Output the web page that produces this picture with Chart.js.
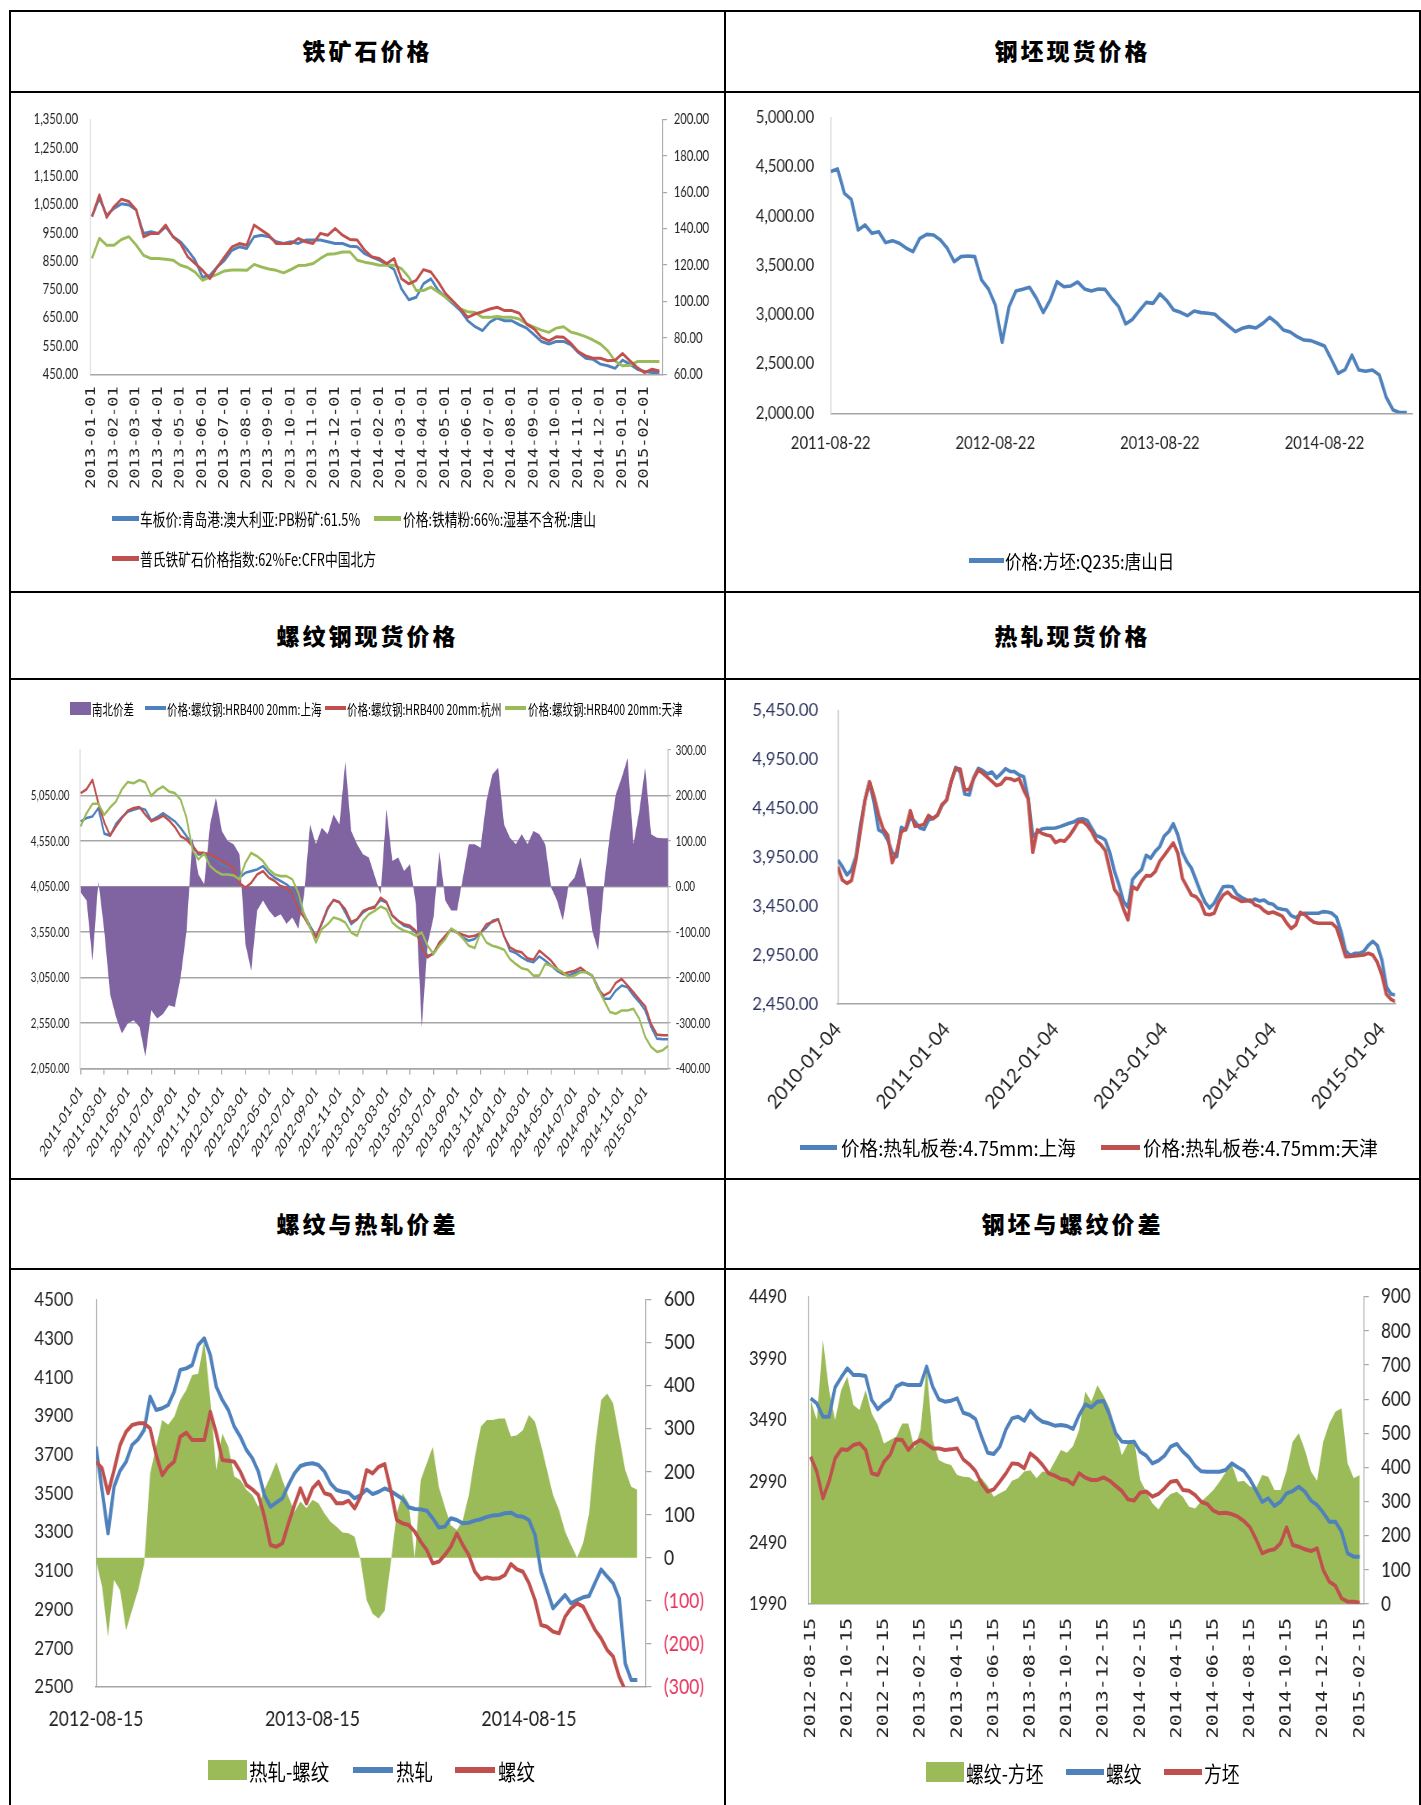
<!DOCTYPE html>
<html><head><meta charset="utf-8">
<script src="https://cdn.jsdelivr.net/npm/chart.js@4.4.0/dist/chart.umd.min.js"></script>
<style>
html,body{margin:0;padding:0;background:#fff;}
body{width:1421px;height:1805px;position:relative;overflow:hidden;font-family:"Noto Sans CJK SC",sans-serif;}
.ln{position:absolute;background:#000;}
.title{position:absolute;font-family:"Noto Sans CJK SC",sans-serif;font-weight:900;font-size:23px;letter-spacing:3px;text-align:center;color:#000;line-height:32px;}
.cw{position:absolute;transform-origin:0 0;}
.lgt{position:absolute;white-space:nowrap;transform-origin:0 50%;color:#000;font-family:"Noto Sans CJK SC",sans-serif;}
.mk{position:absolute;}
</style></head><body>
<script>
// ---------------- DATA ----------------
// 1 铁矿石价格 (step 1/3 month from 2013-01-01)
const c1Start = '2013-01-01', c1Step = 1/3;
const c1Labels = ['2013-01-01','2013-02-01','2013-03-01','2013-04-01','2013-05-01','2013-06-01','2013-07-01','2013-08-01','2013-09-01','2013-10-01','2013-11-01','2013-12-01','2014-01-01','2014-02-01','2014-03-01','2014-04-01','2014-05-01','2014-06-01','2014-07-01','2014-08-01','2014-09-01','2014-10-01','2014-11-01','2014-12-01','2015-01-01','2015-02-01'];
const c1PB = [1007,1072,1012,1036,1052,1048,1030,947,953,947,971,936,918,888,853,793,799,829,853,888,900,894,936,941,936,918,912,918,912,924,924,924,918,912,912,902,900,876,864,853,838,820,752,713,722,770,787,746,722,699,675,639,618,604,634,649,639,639,625,613,590,566,557,566,566,554,527,507,503,486,480,471,500,486,468,460,456,456];
const c1Conc = [859,930,906,906,926,936,906,870,859,859,856,853,835,827,811,782,793,803,815,818,818,817,838,829,822,817,808,820,834,835,841,859,874,876,882,882,853,846,841,835,835,835,823,793,746,746,758,740,722,705,681,671,668,651,651,654,651,651,645,628,616,606,598,613,618,599,592,583,571,557,533,497,480,482,495,495,495,495];
const c1Platts = [146.6,158.6,146.2,152.1,156.2,154.9,150.3,135.5,137.4,137.4,142,135.5,131.8,124.5,120.8,117.1,112.5,118.9,124.5,130,131.8,130.9,142,139.2,136.4,131.8,131.8,131.8,134.6,132.8,131.8,137.4,136.4,140.1,136.4,134.1,133.7,128.2,124.5,123.6,120.8,123.6,112.5,109.7,111.6,117.5,116.2,110.7,104.2,100.2,95.9,91.3,93.2,94.4,95.9,96.8,95,95,93.5,87.6,84.9,80.3,78.4,80.6,80.3,77,72.5,70.1,68.8,68.8,67.4,67.7,71.4,67.4,63.7,60.9,62.8,61.8];

// 2 钢坯现货价格 (step 1/2 month from 2011-08-22)
const c2Start = '2011-08-22', c2Step = 0.5;
const c2Labels = ['2011-08-22','2012-08-22','2013-08-22','2014-08-22'];
const c2Billet = [4451,4478,4231,4170,3859,3910,3825,3842,3731,3751,3724,3676,3639,3775,3815,3808,3758,3673,3538,3589,3595,3589,3352,3261,3098,2720,3081,3240,3257,3278,3166,3021,3149,3335,3284,3291,3332,3261,3240,3261,3257,3163,3081,2906,2953,3041,3125,3115,3210,3142,3048,3024,2990,3037,3021,3014,3004,2943,2885,2828,2862,2879,2865,2912,2973,2919,2845,2825,2777,2743,2737,2710,2683,2547,2405,2443,2591,2439,2426,2439,2388,2162,2034,2007,2007];

// 3 螺纹钢现货价格 (step 1/2 month from 2011-01-01)
const c3Start = '2011-01-01', c3Step = 0.5;
const c3Labels = ['2011-01-01','2011-03-01','2011-05-01','2011-07-01','2011-09-01','2011-11-01','2012-01-01','2012-03-01','2012-05-01','2012-07-01','2012-09-01','2012-11-01','2013-01-01','2013-03-01','2013-05-01','2013-07-01','2013-09-01','2013-11-01','2014-01-01','2014-03-01','2014-05-01','2014-07-01','2014-09-01','2014-11-01','2015-01-01'];
const c3SH = [4766,4802,4820,4912,4631,4609,4740,4813,4871,4893,4912,4893,4777,4813,4857,4813,4766,4693,4602,4511,4401,4401,4383,4347,4292,4274,4255,4146,4201,4219,4237,4274,4201,4146,4110,4073,4019,3873,3745,3618,3508,3636,3800,3902,3880,3763,3636,3690,3763,3807,3829,3902,3873,3727,3672,3618,3599,3545,3399,3290,3308,3435,3490,3581,3545,3490,3454,3472,3545,3599,3672,3690,3508,3344,3319,3271,3235,3217,3282,3235,3180,3125,3089,3071,3100,3122,3107,3071,2943,2816,2816,2907,2961,2943,2852,2779,2688,2506,2378,2371,2371];
const c3HZ = [5076,5119,5221,4966,4755,4609,4711,4802,4882,4912,4922,4839,4766,4791,4828,4777,4704,4602,4565,4492,4419,4419,4401,4365,4328,4292,4255,4091,4037,4091,4182,4219,4146,4110,4055,4037,3982,3800,3709,3599,3490,3654,3818,3902,3873,3800,3661,3690,3782,3807,3818,3927,3880,3734,3672,3636,3618,3563,3381,3271,3319,3435,3508,3581,3545,3519,3497,3508,3537,3636,3661,3690,3501,3381,3344,3326,3260,3246,3344,3290,3235,3151,3089,3107,3125,3158,3107,3071,2918,2852,2889,2991,3034,2961,2889,2808,2735,2542,2422,2415,2415];
const c3TJ = [4711,4857,4959,4959,4839,4919,4984,5119,5199,5185,5221,5192,5046,5112,5148,5094,5076,5003,4802,4456,4347,4412,4274,4219,4182,4182,4172,4128,4310,4419,4383,4328,4237,4182,4164,4164,4128,3982,3745,3599,3435,3581,3636,3709,3690,3654,3545,3508,3672,3745,3782,3829,3800,3654,3599,3563,3545,3508,3545,3399,3308,3399,3472,3588,3545,3479,3399,3373,3545,3435,3399,3381,3355,3253,3198,3151,3136,3071,3071,3198,3180,3144,3107,3053,3071,3107,3107,3071,2925,2797,2670,2652,2688,2688,2706,2597,2396,2287,2232,2251,2305];
const c3Spread = [-13,-31,-163,12,-97,-236,-287,-323,-301,-294,-309,-374,-272,-290,-280,-261,-265,-199,-97,107,27,5,136,195,122,100,93,71,-126,-185,-53,-31,-53,-68,-61,-82,-68,-93,-17,136,93,129,115,158,136,275,122,93,71,64,23,-17,169,56,64,34,49,-39,-309,-126,-68,78,-31,-53,-53,20,93,93,85,188,246,261,136,107,93,115,93,122,115,93,-2,-31,-75,5,20,64,-2,-97,-141,5,115,202,239,282,93,166,261,115,107,106,106];

// 4 热轧现货价格 (step 1/2 month from 2010-01-04)
const c4Start = '2010-01-04', c4Step = 0.5;
const c4Labels = ['2010-01-04','2011-01-04','2012-01-04','2013-01-04','2014-01-04','2015-01-04'];
const c4SH = [3921,3853,3768,3819,3955,4279,4534,4715,4507,4228,4204,4125,3996,3955,4255,4228,4357,4313,4251,4234,4330,4347,4381,4480,4534,4722,4868,4817,4595,4585,4766,4858,4834,4800,4820,4759,4803,4854,4827,4824,4790,4773,4551,4159,4204,4238,4245,4245,4248,4262,4279,4296,4309,4337,4343,4326,4245,4170,4153,4125,3996,3808,3669,3498,3437,3720,3778,3822,3969,3938,4009,4057,4166,4210,4292,4176,3999,3904,3836,3716,3594,3488,3430,3478,3563,3648,3652,3648,3573,3539,3515,3495,3522,3502,3512,3478,3468,3427,3417,3410,3352,3331,3365,3376,3376,3376,3376,3393,3389,3376,3335,3188,2994,2946,2967,2967,2987,3049,3090,3045,2899,2626,2551,2541];
const c4TJ = [3853,3716,3682,3710,3921,4228,4534,4722,4568,4381,4238,4176,3894,4006,4207,4238,4425,4265,4272,4285,4377,4343,4381,4490,4534,4722,4858,4851,4636,4643,4756,4841,4807,4766,4725,4681,4698,4756,4752,4732,4752,4636,4544,4000,4228,4193,4176,4166,4098,4122,4112,4163,4231,4309,4316,4275,4210,4118,4078,4016,3819,3621,3556,3423,3308,3648,3621,3703,3761,3757,3802,3907,3969,4033,4095,3989,3733,3648,3563,3546,3488,3369,3362,3376,3492,3563,3594,3546,3526,3498,3502,3512,3461,3447,3403,3376,3389,3369,3348,3277,3219,3256,3386,3362,3318,3284,3274,3274,3274,3274,3230,3086,2933,2936,2940,2946,2950,2967,2950,2875,2745,2548,2497,2473];

// 5 螺纹与热轧价差 (step 1/3 month from 2012-08-15)
const c5Start = '2012-08-15', c5Step = 1/3;
const c5Labels = ['2012-08-15','2013-08-15','2014-08-15'];
const c5HR = [3741,3517,3293,3534,3617,3663,3749,3779,3827,3999,3930,3939,3956,4025,4137,4145,4162,4266,4300,4214,4051,3982,3930,3844,3792,3724,3681,3612,3491,3431,3452,3474,3543,3603,3641,3651,3655,3646,3612,3551,3517,3508,3503,3474,3491,3520,3496,3508,3525,3512,3491,3471,3428,3419,3417,3410,3371,3324,3328,3371,3362,3345,3348,3359,3366,3378,3386,3388,3397,3400,3383,3379,3362,3285,3095,3001,2906,2941,2975,2932,2949,2963,2970,3039,3107,3070,3036,2958,2622,2536,2536];
const c5Rebar = [3663,3629,3500,3620,3749,3818,3853,3861,3861,3835,3698,3594,3637,3663,3792,3813,3775,3775,3775,3921,3810,3672,3668,3663,3612,3543,3520,3491,3379,3233,3224,3242,3345,3440,3526,3448,3526,3560,3500,3491,3448,3448,3462,3422,3483,3620,3603,3637,3651,3517,3362,3345,3336,3302,3250,3207,3138,3147,3181,3224,3293,3233,3181,3095,3056,3066,3059,3061,3078,3135,3107,3095,3036,2949,2820,2811,2786,2777,2863,2906,2932,2915,2855,2794,2751,2691,2657,2553,2484,2450,2416];
const c5Diff = [-5,-67,-183,-51,-75,-168,-121,-75,-13,196,258,320,309,328,367,390,425,428,506,367,204,289,258,189,181,158,146,119,158,189,223,181,142,107,131,115,135,127,103,84,72,59,57,49,-5,-98,-130,-141,-123,-13,103,150,127,0,181,220,258,165,119,76,65,88,146,235,305,320,320,324,324,282,285,297,332,316,262,204,146,111,61,30,0,34,103,258,367,382,359,282,204,165,158];

// 6 钢坯与螺纹价差 (step 1/3 month from 2012-08-15)
const c6Start = '2012-08-15', c6Step = 1/3;
const c6Labels = ['2012-08-15','2012-10-15','2012-12-15','2013-02-15','2013-04-15','2013-06-15','2013-08-15','2013-10-15','2013-12-15','2014-02-15','2014-04-15','2014-06-15','2014-08-15','2014-10-15','2014-12-15','2015-02-15'];
const c6Rebar = [3663,3622,3514,3514,3753,3834,3907,3853,3853,3845,3649,3574,3622,3655,3758,3785,3771,3771,3771,3921,3758,3655,3636,3644,3663,3546,3530,3495,3351,3221,3210,3270,3411,3500,3514,3481,3563,3508,3473,3460,3441,3446,3438,3414,3527,3614,3590,3636,3641,3527,3378,3311,3305,3311,3229,3197,3134,3156,3197,3270,3292,3229,3183,3113,3069,3066,3066,3066,3080,3134,3102,3072,3004,2912,2820,2850,2787,2822,2890,2909,2944,2904,2831,2795,2733,2660,2660,2578,2402,2375,2375];
const c6Billet = [3188,3066,2850,2985,3175,3248,3243,3283,3297,3243,3053,3039,3148,3202,3329,3324,3243,3297,3324,3292,3256,3256,3243,3248,3256,3167,3126,3072,2972,2904,2923,2985,3053,3134,3129,3094,3216,3175,3121,3053,3034,3007,2999,2963,3053,3018,2999,2999,3020,2993,2950,2909,2841,2831,2896,2906,2863,2885,2931,2985,2993,2917,2912,2877,2822,2803,2749,2728,2733,2722,2700,2665,2614,2516,2402,2424,2435,2483,2614,2470,2456,2435,2421,2443,2267,2172,2139,2036,2009,2009,2001];
const c6Diff = [597,539,773,627,539,627,666,583,568,627,558,524,470,480,490,529,529,456,510,695,480,422,412,407,378,373,371,358,368,346,314,324,334,361,368,388,392,368,388,385,417,451,443,463,510,622,593,641,610,573,500,436,470,480,363,329,295,277,305,322,329,314,285,280,300,316,334,358,385,410,358,361,344,339,378,373,334,334,392,475,500,451,388,361,475,529,563,573,412,368,378];

// ---------------- COLOURS ----------------
const BLUE='#4F81BD', RED='#C0504D', GREEN='#9BBB59', PURPLE='#8064A2';

// ---------------- PAGE FRAME ----------------
function line(l,t,w,h){const d=document.createElement('div');d.className='ln';Object.assign(d.style,{left:l+'px',top:t+'px',width:w+'px',height:h+'px'});document.body.appendChild(d);}
line(9,10,1412,2); line(9,10,2,1795); line(1419,10,2,1795); line(724,10,2,1795);
[91,591,678,1178,1268].forEach(y=>line(9,y,1412,2));
function title(txt,l,w,yc){const d=document.createElement('div');d.className='title';d.textContent=txt;Object.assign(d.style,{left:l+'px',width:w+'px',top:(yc-16)+'px'});document.body.appendChild(d);}
title('铁矿石价格',11,713,50); title('钢坯现货价格',726,693,50);
title('螺纹钢现货价格',11,713,635); title('热轧现货价格',726,693,635);
title('螺纹与热轧价差',11,713,1223); title('钢坯与螺纹价差',726,693,1223);

// ---------------- HELPERS ----------------
Chart.defaults.font.family='Lato, "Noto Sans CJK SC", sans-serif';
Chart.defaults.color='#222';
const fmt2=v=>Number(v).toLocaleString('en-US',{minimumFractionDigits:2,maximumFractionDigits:2});
const pts=(vals,step)=>vals.map((v,i)=>({x:i*step,y:v}));
const monthsFrom=(start,d)=>{const a=start.split('-').map(Number),b=d.split('-').map(Number);return (b[0]-a[0])*12+(b[1]-a[1])+(b[2]-a[2])/30;};
function lineDs(vals,step,color,w,axis,order){return {data:pts(vals,step),borderColor:color,borderWidth:w,pointRadius:0,fill:false,tension:0,yAxisID:axis,order:order,borderJoinStyle:'round'};}
function areaDs(vals,step,color,axis){return {data:pts(vals,step),borderColor:'rgba(0,0,0,0)',borderWidth:0.5,backgroundColor:color,pointRadius:0,fill:'origin',tension:0,yAxisID:axis,order:10};}
function xScale(min,max,start,labels,o){
  const tv=labels.map(l=>monthsFrom(start,l));
  return {type:'linear',min:min,max:max,
    afterBuildTicks:a=>{a.ticks=tv.map(v=>({value:v}));},
    ticks:{autoSkip:false,minRotation:o.rot,maxRotation:o.rot,padding:o.pad,font:o.font,color:o.color||'#222',callback:(v,i)=>labels[i]},
    grid:{display:true,drawOnChartArea:false,drawTicks:!!o.tick,tickLength:o.tick||0,color:'#A6A6A6',lineWidth:1.5},
    border:{display:true,color:o.bc||'#A6A6A6',width:o.bw||1.5}};
}
function yScale(pos,min,max,step,fmt,o){
  return {type:'linear',position:pos,min:min,max:max,
    ticks:{stepSize:step,padding:o.pad,font:o.font,color:o.color||'#222',callback:fmt},
    grid:{display:true,drawOnChartArea:!!o.gridOn,drawTicks:!!o.tick,tickLength:o.tick||0,color:o.gridColor||'#A6A6A6',lineWidth:o.glw||1.2},
    border:{display:true,color:o.bc||'#BFBFBF',width:o.bw||1.2}};
}
function makeChart(o){
  const s=o.s, iw=Math.round(o.w/s);
  const wrap=document.createElement('div'); wrap.className='cw';
  Object.assign(wrap.style,{left:o.left+'px',top:o.top+'px',width:iw+'px',height:o.h+'px',transform:'scaleX('+s+')'});
  const cv=document.createElement('canvas'); cv.width=iw; cv.height=o.h;
  cv.style.width=iw+'px'; cv.style.height=o.h+'px';
  wrap.appendChild(cv); document.body.appendChild(wrap);
  const L=(o.plot.l-o.left)/s, R=(o.plot.r-o.left)/s, T=o.plot.t-o.top, B=o.plot.b-o.top;
  const sc=o.scales;
  const noPad=a=>{a.paddingTop=0;a.paddingBottom=0;a.paddingLeft=0;a.paddingRight=0;};
  sc.y.afterFit=a=>{a.width=L;noPad(a);};
  if(sc.y1) sc.y1.afterFit=a=>{a.width=iw-R;noPad(a);};
  sc.x.afterFit=a=>{a.height=o.xH;noPad(a);};
  return new Chart(cv.getContext('2d'),{type:'line',data:{datasets:o.datasets},
    options:{responsive:false,animation:false,events:[],
      layout:{padding:{left:0,top:T,bottom:o.h-B-o.xH,right:sc.y1?0:iw-R}},
      plugins:{legend:{display:false},tooltip:{enabled:false}},scales:sc}});
}
function legend(items,y,fs,s){
  items.forEach(it=>{
    const m=document.createElement('div'); m.className='mk';
    const th=it.box?it.bh:it.th;
    Object.assign(m.style,{left:it.x1+'px',width:(it.x2-it.x1)+'px',top:(y-th/2)+'px',height:th+'px',background:it.color});
    document.body.appendChild(m);
    const t=document.createElement('div'); t.className='lgt'; t.textContent=it.text;
    const lh=Math.round(fs*1.4);
    Object.assign(t.style,{left:it.tx+'px',top:(y-lh/2)+'px',fontSize:fs+'px',lineHeight:lh+'px',transform:'scaleX('+s+')'});
    document.body.appendChild(t);
  });
}

// ---------------- CHART 1 ----------------
makeChart({left:11,top:93,w:713,h:498,s:0.75,plot:{l:90,r:662.5,t:119.4,b:374.3},xH:118,
  datasets:[lineDs(c1Platts,c1Step,RED,3,'y1',0),lineDs(c1Conc,c1Step,GREEN,3,'y',1),lineDs(c1PB,c1Step,BLUE,3,'y',2)],
  scales:{
    x:xScale(-0.09,25.81,c1Start,c1Labels,{rot:90,pad:12,font:{size:17,family:'"DejaVu Sans Mono", monospace'}}),
    y:yScale('left',450,1350,100,v=>fmt2(v),{pad:16,font:{size:15},bc:'#D0D0D0'}),
    y1:yScale('right',60,200,20,v=>fmt2(v),{pad:9,tick:6,font:{size:15},bc:'#A6A6A6'})
  }});
legend([{x1:112,x2:138.5,th:5,color:BLUE,tx:140,text:'车板价:青岛港:澳大利亚:PB粉矿:61.5%'},
        {x1:374,x2:400.8,th:5,color:GREEN,tx:402.6,text:'价格:铁精粉:66%:湿基不含税:唐山'}],518.6,17,0.75);
legend([{x1:112,x2:138.5,th:5,color:RED,tx:140,text:'普氏铁矿石价格指数:62%Fe:CFR中国北方'}],558.5,17,0.75);

// ---------------- CHART 2 ----------------
makeChart({left:726,top:93,w:693,h:498,s:0.87,plot:{l:830.7,r:1412,t:117.5,b:413.3},xH:60,
  datasets:[lineDs(c2Billet,c2Step,BLUE,3.6,'y',0)],
  scales:{
    x:xScale(0,42.38,c2Start,c2Labels,{rot:0,pad:20,font:{size:17}}),
    y:yScale('left',2000,5000,500,v=>fmt2(v),{pad:19,font:{size:17},bc:'#D0D0D0'})
  }});
legend([{x1:968.5,x2:1004,th:5,color:BLUE,tx:1005,text:'价格:方坯:Q235:唐山日'}],560,19,0.87);

// ---------------- CHART 3 ----------------
makeChart({left:11,top:680,w:713,h:498,s:0.70,plot:{l:80,r:668,t:750,b:1068.5},xH:95,
  datasets:[lineDs(c3TJ,c3Step,GREEN,2.6,'y',0),lineDs(c3HZ,c3Step,RED,2.6,'y',1),lineDs(c3SH,c3Step,BLUE,2.6,'y',2),areaDs(c3Spread,c3Step,PURPLE,'y1')],
  scales:{
    x:xScale(-0.06,49.94,c3Start,c3Labels,{rot:50,pad:8,tick:6,font:{size:16}}),
    y:yScale('left',2050,5550,500,v=>v===5550?null:fmt2(v),{pad:15,gridOn:true,glw:1.5,gridColor:'#A6A6A6',font:{size:14},bc:'#C8C8C8'}),
    y1:yScale('right',-400,300,100,v=>fmt2(v),{pad:7,tick:4,font:{size:14},bc:'#A6A6A6'})
  }});
legend([{box:1,x1:70.2,x2:91,bh:13,color:PURPLE,tx:92.3,text:'南北价差'},
        {x1:145.4,x2:166.2,th:4,color:BLUE,tx:167,text:'价格:螺纹钢:HRB400 20mm:上海'},
        {x1:324.6,x2:346.3,th:4,color:RED,tx:347.2,text:'价格:螺纹钢:HRB400 20mm:杭州'},
        {x1:504.6,x2:526.3,th:4,color:GREEN,tx:527.7,text:'价格:螺纹钢:HRB400 20mm:天津'}],708,15,0.70);

// ---------------- CHART 4 ----------------
makeChart({left:726,top:680,w:693,h:498,s:0.93,plot:{l:837.8,r:1395,t:710.4,b:1003.9},xH:115,
  datasets:[lineDs(c4TJ,c4Step,RED,3.6,'y',0),lineDs(c4SH,c4Step,BLUE,3.6,'y',1)],
  scales:{
    x:xScale(0,61.45,c4Start,c4Labels,{rot:48,pad:14,font:{size:20}}),
    y:yScale('left',2450,5450,500,v=>fmt2(v),{pad:21,font:{size:18},color:'#2E3560',bc:'#BFBFBF'})
  }});
legend([{x1:799.6,x2:837,th:5,color:BLUE,tx:840.5,text:'价格:热轧板卷:4.75mm:上海'},
        {x1:1101,x2:1139.6,th:5,color:RED,tx:1142.7,text:'价格:热轧板卷:4.75mm:天津'}],1147.5,20,0.93);

// ---------------- CHART 5 ----------------
makeChart({left:11,top:1270,w:713,h:535,s:0.84,plot:{l:96,r:645.5,t:1299.6,b:1687},xH:60,
  datasets:[lineDs(c5Rebar,c5Step,RED,4,'y',0),lineDs(c5HR,c5Step,BLUE,4,'y',1),areaDs(c5Diff,c5Step,GREEN,'y1')],
  scales:{
    x:xScale(0,30.46,c5Start,c5Labels,{rot:0,pad:20,font:{size:21}}),
    y:yScale('left',2500,4500,200,v=>String(v),{pad:27,font:{size:20},bc:'#A6A6A6'}),
    y1:yScale('right',-300,600,100,v=>v<0?'('+Math.abs(v)+')':String(v),{pad:15,tick:7,font:{size:21},bc:'#A6A6A6',color:c=>c.tick&&c.tick.value<0?'#E8305A':'#222'})
  }});
legend([{box:1,x1:207.8,x2:247,bh:20,color:GREEN,tx:249,text:'热轧-螺纹'},
        {x1:353,x2:393,th:6,color:BLUE,tx:396,text:'热轧'},
        {x1:455,x2:495,th:6,color:RED,tx:497.6,text:'螺纹'}],1770,22,0.84);

// ---------------- CHART 6 ----------------
makeChart({left:726,top:1270,w:693,h:535,s:0.81,plot:{l:808.5,r:1364,t:1296.7,b:1604},xH:140,
  datasets:[lineDs(c6Billet,c6Step,RED,4,'y',0),lineDs(c6Rebar,c6Step,BLUE,4,'y',1),areaDs(c6Diff,c6Step,GREEN,'y1')],
  scales:{
    x:xScale(-0.12,30.23,c6Start,c6Labels,{rot:90,pad:14,font:{size:20,family:'"DejaVu Sans Mono", monospace'}}),
    y:yScale('left',1990,4490,500,v=>String(v),{pad:27,font:{size:20},bc:'#A6A6A6'}),
    y1:yScale('right',0,900,100,v=>String(v),{pad:15,tick:6,font:{size:21},bc:'#A6A6A6'})
  }});
legend([{box:1,x1:926,x2:964,bh:20,color:GREEN,tx:966,text:'螺纹-方坯'},
        {x1:1066,x2:1104,th:6,color:BLUE,tx:1106,text:'螺纹'},
        {x1:1164,x2:1202,th:6,color:RED,tx:1204,text:'方坯'}],1772,22,0.81);
</script>
</body></html>
